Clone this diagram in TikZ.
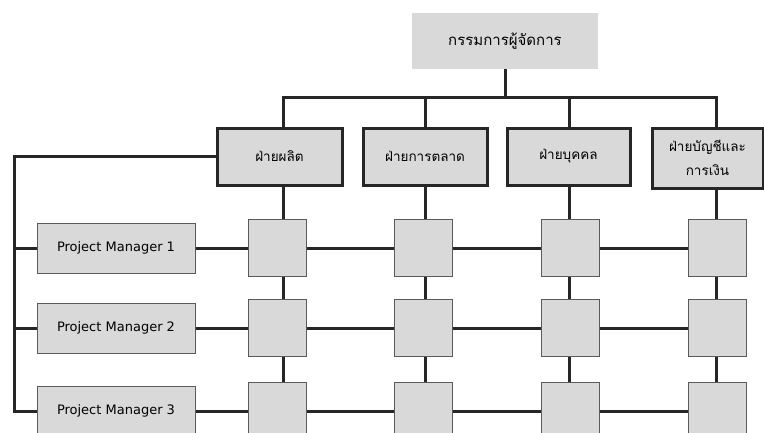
\documentclass[tikz,border=0pt]{standalone}
\usepackage{fontspec}
\setmainfont{DejaVu Sans}
\newfontfamily\thaifont[Script=Thai]{Loma}
\usetikzlibrary{shadows}
\definecolor{boxfill}{HTML}{D9D9D9}
\definecolor{linkcol}{HTML}{262626}
\definecolor{edgecol}{HTML}{5A5A5A}
\tikzset{
  link/.style={draw=linkcol, line width=3pt},
  topbox/.style={fill=boxfill, minimum width=186pt, minimum height=56pt, inner sep=0pt, font=\thaifont\fontsize{15}{18}\selectfont},
  deptbox/.style={fill=boxfill, draw=linkcol, line width=3pt, inner sep=0pt, align=center,
    font=\thaifont\fontsize{13.5}{24}\selectfont,
    drop shadow={shadow xshift=1.5pt, shadow yshift=-2pt, fill=black, opacity=0.35}},
  pmbox/.style={fill=boxfill, draw=edgecol, line width=1pt, minimum width=158pt, minimum height=50pt, inner sep=0pt,
    font=\fontsize{13}{15}\selectfont},
  cell/.style={fill=boxfill, draw=edgecol, line width=1pt, minimum width=58pt, minimum height=57pt, inner sep=0pt}
}
\begin{document}
\begin{tikzpicture}[x=1pt,y=-1pt]
\useasboundingbox (0,0) rectangle (764,432);
\clip (0,0) rectangle (764,432);

% column lines and the left bus
\coordinate (c1) at (283,0);
\coordinate (c2) at (425,0);
\coordinate (c3) at (569,0);
\coordinate (c4) at (716,0);
\coordinate (bar) at (0,97);
\coordinate (bus) at (14,0);

% managing director
\node[topbox] (top) at (505,41) {กรรมการผู้จัดการ};

% departments
\node[deptbox, minimum width=125pt, minimum height=57pt] (d1) at (279.5,156.5) {ฝ่ายผลิต};
\node[deptbox, minimum width=124pt, minimum height=57pt] (d2) at (425,156.5) {ฝ่ายการตลาด};
\node[deptbox, minimum width=123pt, minimum height=57pt] (d3) at (568.5,156.5) {ฝ่ายบุคคล};
\node[deptbox, minimum width=111pt, minimum height=60pt] (d4) at (707.5,158) {ฝ่ายบัญชีและ\\การเงิน};

% project managers
\node[pmbox] (p1) at (116,248) {Project Manager 1};
\node[pmbox] (p2) at (116,328) {Project Manager 2};
\node[pmbox] (p3) at (116,411) {Project Manager 3};

% matrix cells
\foreach \r/\y in {1/248,2/328,3/411}{
  \node[cell] (s\r1) at (277,\y) {};
  \node[cell] (s\r2) at (423,\y) {};
  \node[cell] (s\r3) at (570,\y) {};
  \node[cell] (s\r4) at (717,\y) {};
}

% tree from the top box
\draw[link] (top.south) -- (top.south |- bar);
\draw[link, line cap=rect] (c1 |- bar) -- (c4 |- bar);
\foreach \i in {1,...,4}{
  \draw[link] (c\i |- bar) -- (d\i.north -| c\i);
  \draw[link] (d\i.south -| c\i) -- (s1\i.north -| c\i);
  \draw[link] (s1\i.south -| c\i) -- (s2\i.north -| c\i);
  \draw[link] (s2\i.south -| c\i) -- (s3\i.north -| c\i);
}

% left bus to the project managers
\draw[link] (d1.west) -- (bus |- d1.west) -- (bus |- p3.west) -- (p3.west);
\draw[link] (bus |- p1.west) -- (p1.west);
\draw[link] (bus |- p2.west) -- (p2.west);

% rows
\foreach \r in {1,2,3}{
  \draw[link] (p\r.east) -- (s\r1.west);
  \draw[link] (s\r1.east) -- (s\r2.west);
  \draw[link] (s\r2.east) -- (s\r3.west);
  \draw[link] (s\r3.east) -- (s\r4.west);
}
\end{tikzpicture}
\end{document}
